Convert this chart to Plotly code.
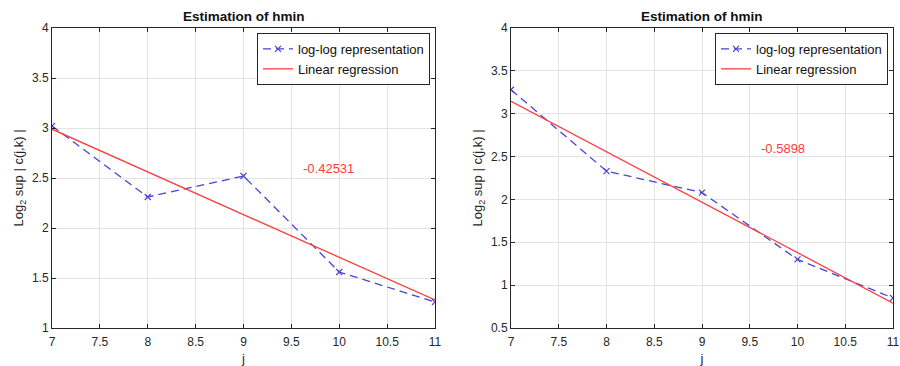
import numpy as np
import plotly.graph_objects as go
from plotly.subplots import make_subplots

# Data
j_scales = [7, 8, 9, 10, 11]
left_logsup = [3.02, 2.31, 2.52, 1.56, 1.26]
right_logsup = [3.28, 2.33, 2.08, 1.30, 0.85]
left_slope_label = "-0.42531"
right_slope_label = "-0.5898"
x_ticks = [7, 7.5, 8, 8.5, 9, 9.5, 10, 10.5, 11]
left_y_ticks = [1, 1.5, 2, 2.5, 3, 3.5, 4]
right_y_ticks = [0.5, 1, 1.5, 2, 2.5, 3, 3.5, 4]

FONT = "Liberation Sans, Arial, sans-serif"
BLUE = "#4646d2"
RED = "#ff3b3b"
AXC = "#262626"

W, H = 900, 366
ML, MR, MT, MB = 52, 7, 28, 38
pw = W - ML - MR
ph = H - MT - MB
d1 = [0, (435 - ML) / pw]
d2 = [(511 - ML) / pw, 1.0]

fig = make_subplots(rows=1, cols=2, horizontal_spacing=0.05)


def fit(x, y):
    s, b = np.polyfit(np.array(x, float), np.array(y, float), 1)
    return [s * v + b for v in x]


panels = [
    (1, left_logsup, left_slope_label, "legend"),
    (2, right_logsup, right_slope_label, "legend2"),
]
for col, ys, lab, lg in panels:
    fig.add_trace(go.Scatter(
        x=j_scales, y=ys, mode="lines+markers", name="log-log representation",
        line=dict(color=BLUE, width=1.3, dash="8px,5px"),
        marker=dict(symbol="x-thin", size=6, line=dict(color=BLUE, width=1.2)),
        legend=lg), row=1, col=col)
    fig.add_trace(go.Scatter(
        x=j_scales, y=fit(j_scales, ys), mode="lines", name="Linear regression",
        line=dict(color=RED, width=1.3), legend=lg), row=1, col=col)
    xr = "x" if col == 1 else "x2"
    yr = "y" if col == 1 else "y2"
    fig.add_annotation(x=9.6, y=2.6, xref=xr, yref=yr, text=lab, showarrow=False,
                       xanchor="left", yanchor="middle",
                       font=dict(family=FONT, size=13, color=RED))

axis_common = dict(showgrid=True, gridcolor="#e3e3e3", gridwidth=1,
                   showline=True, linecolor=AXC, linewidth=1, mirror="allticks",
                   ticks="inside", ticklen=4, tickcolor=AXC, zeroline=False,
                   automargin=False,
                   tickfont=dict(family=FONT, size=12, color=AXC))

fig.update_xaxes(**axis_common, range=[7, 11], tickvals=x_ticks,
                 ticktext=[f"{v:g}" for v in x_ticks], ticklabelstandoff=3,
                 title=dict(text="j", font=dict(family=FONT, size=13, color=AXC), standoff=8))
fig.update_xaxes(domain=d1, row=1, col=1)
fig.update_xaxes(domain=d2, row=1, col=2)

ytitle = dict(text="Log<sub>2</sub> sup | c(j,k) |", font=dict(family=FONT, size=13, color=AXC), standoff=5)
fig.update_yaxes(**axis_common, range=[1, 4], tickvals=left_y_ticks,
                 ticktext=[f"{v:g}" for v in left_y_ticks], title=ytitle, row=1, col=1)
fig.update_yaxes(**axis_common, range=[0.5, 4], tickvals=right_y_ticks,
                 ticktext=[f"{v:g}" for v in right_y_ticks], title=ytitle, row=1, col=2)

# Titles
for dom in (d1, d2):
    fig.add_annotation(x=(dom[0] + dom[1]) / 2, y=1, xref="paper", yref="paper",
                       text="<b>Estimation of hmin</b>", showarrow=False,
                       xanchor="center", yanchor="bottom", yshift=2,
                       font=dict(family=FONT, size=13.5, color="#111111"))

leg = dict(bgcolor="white", bordercolor=AXC, borderwidth=1,
           font=dict(family=FONT, size=13, color="#111111"),
           xanchor="right", yanchor="top", tracegroupgap=0,
           itemwidth=30, traceorder="normal")
fig.update_layout(
    width=W, height=H, margin=dict(l=ML, r=MR, t=MT, b=MB),
    paper_bgcolor="white", plot_bgcolor="white", showlegend=True,
    legend=dict(**leg, x=(430 - ML) / pw, y=1 - 5 / ph),
    legend2=dict(**leg, x=(888 - ML) / pw, y=1 - 5 / ph),
)

fig.write_html("out.html")
